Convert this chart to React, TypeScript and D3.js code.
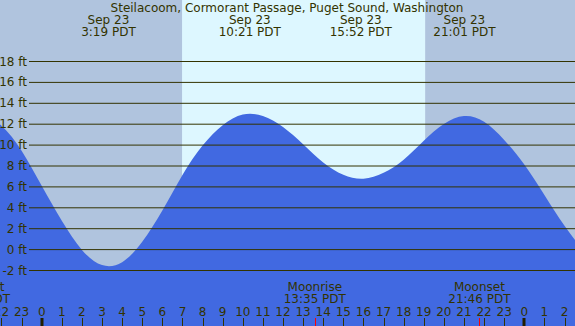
import { useEffect, useRef } from "react";
import * as d3 from "d3";

// tide height at each hour (hours from Sep 23 00:00)
const tideHours = [-3, -2, -1, 0, 1, 2, 3, 4, 5, 6, 7, 8, 9, 10, 11, 12, 13, 14, 15, 16, 17, 18, 19, 20, 21, 22, 23, 24, 25, 26, 27];
const tideFeet = [13.0, 11.85, 9.45, 6.1, 2.76, -0.03, -1.48, -1.2, 0.75, 3.73, 7.14, 9.95, 11.9, 12.93, 12.79, 11.73, 10.08, 8.34, 7.16, 6.79, 7.35, 8.6, 10.42, 12.02, 12.78, 12.24, 10.5, 8.14, 5.23, 2.29, -0.25];

const extremeHours = [3.32, 10.35, 15.87, 21.02];
const extremeDates = ["Sep 23", "Sep 23", "Sep 23", "Sep 23"];
const extremeTimes = ["3:19 PDT", "10:21 PDT", "15:52 PDT", "21:01 PDT"];

const moonHours = [-3.12, 13.583, 21.767];
const moonNames = ["Moonset", "Moonrise", "Moonset"];
const moonTimes = ["20:53 PDT", "13:35 PDT", "21:46 PDT"];

const sunriseHour = 6.98;
const sunsetHour = 19.07;

const feetTicks = [-2, 0, 2, 4, 6, 8, 10, 12, 14, 16, 18];
const hourTicks = d3.range(-2, 27);

const title = "Steilacoom, Cormorant Passage, Puget Sound, Washington";

export default function App() {
  const svgRef = useRef<SVGSVGElement>(null);

  useEffect(() => {
    if (!svgRef.current) return;
    const svg = d3.select(svgRef.current);
    svg.selectAll("*").remove();

    const width = 575;
    const height = 326;
    const ink = "#333300";
    const font = "DejaVu Sans, sans-serif";

    const x = d3.scaleLinear().domain([0, 24]).range([41.7, 524.3]);
    const y = d3.scaleLinear().domain([-2, 18]).range([270.5, 61.5]);

    // night / day background
    svg.append("rect")
      .attr("x", 0).attr("y", 0)
      .attr("width", width).attr("height", height)
      .attr("fill", "#b0c4de");
    svg.append("rect")
      .attr("x", x(sunriseHour)).attr("y", 0)
      .attr("width", x(sunsetHour) - x(sunriseHour)).attr("height", height)
      .attr("fill", "#ddf7ff");

    // tide area
    const pts = tideHours.map((h, i) => ({ h, f: tideFeet[i] }));
    const area = d3.area<{ h: number; f: number }>()
      .x(d => x(d.h))
      .y0(height)
      .y1(d => y(d.f))
      .curve(d3.curveNatural);
    svg.append("path")
      .datum(pts)
      .attr("fill", "#4169e1")
      .attr("d", area);

    // gridlines + labels
    feetTicks.forEach(f => {
      svg.append("line")
        .attr("x1", 29).attr("x2", width)
        .attr("y1", y(f)).attr("y2", y(f))
        .attr("stroke", ink).attr("stroke-width", 1);
      svg.append("text")
        .attr("x", 27).attr("y", y(f) + 4)
        .attr("text-anchor", "end")
        .attr("font-family", font).attr("font-size", 12)
        .attr("fill", ink)
        .text(`${f} ft`);
    });

    // title + extremes header
    svg.append("text")
      .attr("x", 287).attr("y", 12)
      .attr("text-anchor", "middle")
      .attr("font-family", font).attr("font-size", 12)
      .attr("fill", ink)
      .text(title);

    extremeHours.forEach((h, i) => {
      const t = svg.append("text")
        .attr("text-anchor", "middle")
        .attr("font-family", font).attr("font-size", 12)
        .attr("fill", ink);
      t.append("tspan").attr("x", x(h)).attr("y", 24).text(extremeDates[i]);
      t.append("tspan").attr("x", x(h)).attr("y", 36).text(extremeTimes[i]);
    });

    // moon events
    moonHours.forEach((h, i) => {
      const t = svg.append("text")
        .attr("text-anchor", "middle")
        .attr("font-family", font).attr("font-size", 12)
        .attr("fill", ink);
      t.append("tspan").attr("x", x(h)).attr("y", 291).text(moonNames[i]);
      t.append("tspan").attr("x", x(h)).attr("y", 303).text(moonTimes[i]);
    });

    // hour ticks
    hourTicks.forEach(h => {
      const px = Math.round(x(h));
      const hr = ((h % 24) + 24) % 24;
      const midnight = hr === 0;
      svg.append("text")
        .attr("x", x(h)).attr("y", 316)
        .attr("text-anchor", "middle")
        .attr("font-family", font).attr("font-size", 12)
        .attr("fill", ink)
        .text(String(hr));
      svg.append("line")
        .attr("x1", midnight ? px : px + 0.5).attr("x2", midnight ? px : px + 0.5)
        .attr("y1", 318).attr("y2", height)
        .attr("stroke", midnight ? "#221f00" : ink)
        .attr("stroke-width", midnight ? 3 : 1);
    });

    moonHours.forEach(h => {
      const px = Math.round(x(h)) + 0.5;
      svg.append("line")
        .attr("x1", px).attr("x2", px)
        .attr("y1", 318).attr("y2", height)
        .attr("stroke", "#ff0000")
        .attr("stroke-width", 1);
    });
  }, []);

  return (
    <div style={{ position: "absolute", left: 0, top: 0 }}>
      <svg ref={svgRef} width={575} height={326} style={{ display: "block" }}></svg>
    </div>
  );
}
